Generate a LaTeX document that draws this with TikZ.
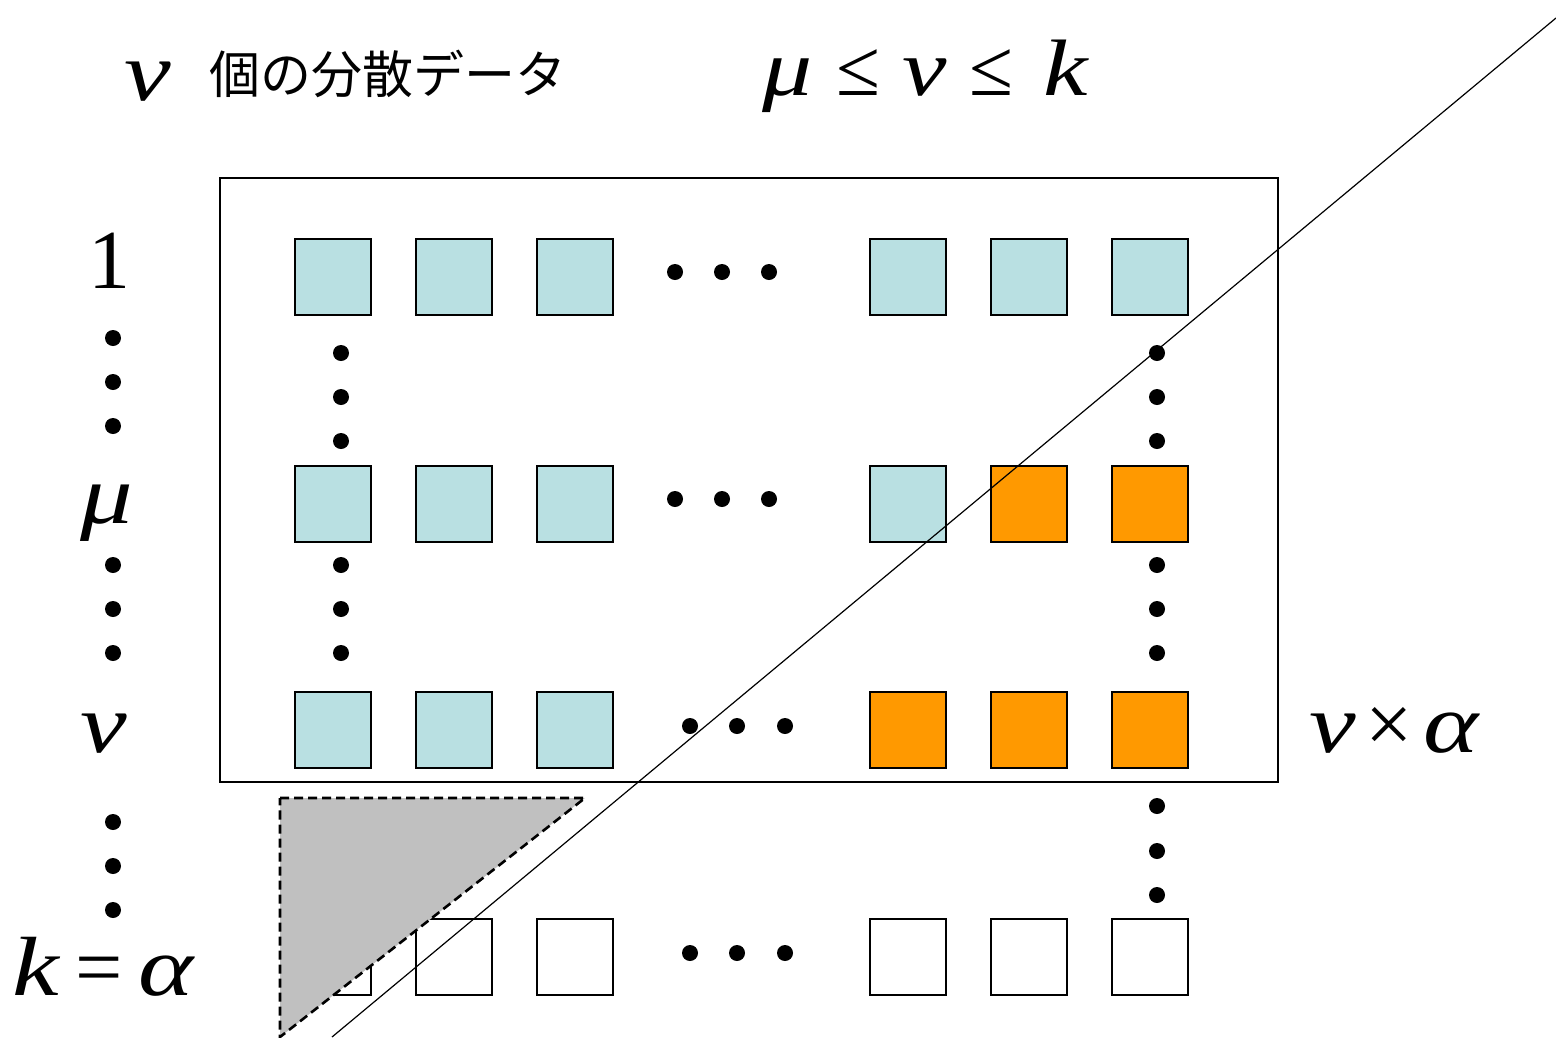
\documentclass[tikz,border=0pt]{standalone}
\usepackage{fontspec}
\setmainfont{Liberation Serif}
\newfontfamily\tnr{Liberation Serif}
\newfontfamily\gk[FakeStretch=1.25]{Liberation Serif}
\newfontfamily\jpfont{Noto Sans CJK JP}
\newcommand{\gr}[1]{{\gk\itshape #1}}
\definecolor{cellblue}{HTML}{B9E0E2}
\definecolor{cellorange}{HTML}{FF9900}
\definecolor{shade}{HTML}{C0C0C0}
\begin{document}
\begin{tikzpicture}[x=1pt,y=-1pt,
  cell/.style={draw=black,line width=1.4pt,minimum size=76pt,inner sep=0pt,fill=#1},
  cell/.default=white,
  dot/.style={circle,fill=black,inner sep=0pt,minimum size=16pt},
  lbl/.style={anchor=base west,inner sep=0pt,font=\tnr\fontsize{84}{90}\selectfont},
  toplbl/.style={anchor=base west,inner sep=0pt,font=\tnr\fontsize{80}{86}\selectfont}]
\useasboundingbox (0,0) rectangle (1556,1037);

% outer frame of the distributed data block
\draw[line width=1.5pt] (220,178) rectangle (1278,782);

% grid of data cells: rows 1, mu, nu, k
\foreach \c/\x in {1/333,2/454,3/575,4/908,5/1029,6/1150}{
  \node[cell=cellblue] (a\c) at (\x,277) {};
  \node[cell=white] (d\c) at (\x,957) {};
}
\foreach \c/\x in {1/333,2/454,3/575,4/908}{\node[cell=cellblue] (b\c) at (\x,504) {};}
\foreach \c/\x in {5/1029,6/1150}{\node[cell=cellorange] (b\c) at (\x,504) {};}
\foreach \c/\x in {1/333,2/454,3/575}{\node[cell=cellblue] (c\c) at (\x,730) {};}
\foreach \c/\x in {4/908,5/1029,6/1150}{\node[cell=cellorange] (c\c) at (\x,730) {};}

% horizontal ellipses
\foreach \x in {675,722,769}{
  \node[dot] at (\x,272) {};
  \node[dot] at (\x,499) {};
}
\foreach \x in {690,737,785}{
  \node[dot] at (\x,726) {};
  \node[dot] at (\x,953) {};
}
% vertical ellipses
\foreach \y in {353,397,441,565,609,653}{
  \node[dot] at (341,\y) {};
  \node[dot] at (1157,\y) {};
}
\foreach \y in {806,851,895}{\node[dot] at (1157,\y) {};}
\foreach \y in {338,382,426,565,609,653,822,866,910}{\node[dot] at (113,\y) {};}

% shaded triangle
\draw[fill=shade,line width=2.6pt,dash pattern=on 9pt off 5pt]
  (280,798) -- (585,798) -- (280,1037) -- cycle;

% diagonal line
\coordinate (p) at (1556,18);
\coordinate (q) at (332,1037);
\draw[line width=1.2pt] (p) -- (q);

% row labels
\node[lbl] (one) at (88,288) {1};
\node[lbl] (mu) at (80,523) {\gr{μ}};
\node[lbl] (nu) at (80,752) {\gr{ν}};
\node[lbl] (ka) at (12,995) {\gr{k}\hspace{0.2em}=\hspace{0.18em}\gr{α}};
\node[lbl] (na) at (1309,752) {\gr{ν}\hspace{0.12em}×\hspace{0.12em}\gr{α}};

% titles
\node[lbl] (tn) at (124,100) {\gr{ν}};
\node[anchor=base west,inner sep=0pt,font=\jpfont\fontsize{51}{58}\selectfont] (tj) at (209,93) {個の分散データ};
\node[toplbl] (ineq) at (762,95) {\gr{μ}\hspace{0.3em}≤\hspace{0.28em}\gr{ν}\hspace{0.28em}≤\hspace{0.38em}\gr{k}};
\end{tikzpicture}
\end{document}
